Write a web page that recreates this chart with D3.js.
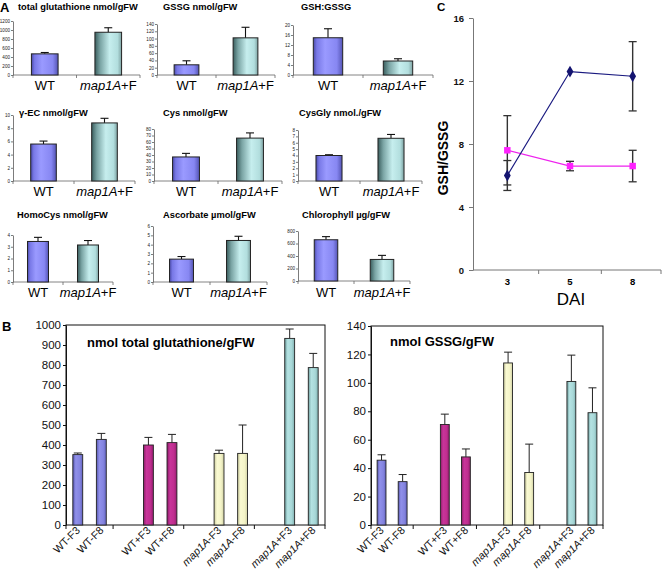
<!DOCTYPE html>
<html><head><meta charset="utf-8">
<script src="https://cdn.jsdelivr.net/npm/d3@7"></script>
<style>
body{margin:0;background:#fff}
svg{display:block}
text{font-family:"Liberation Sans",Arial,Helvetica,sans-serif}
</style>
</head><body>
<svg id="c" width="662" height="574"></svg>
<script>
// ---------- DATA ----------
// Panel A (9 small charts): WT vs map1A+F
const aTitles = ["total glutathione nmol/gFW","GSSG nmol/gFW","GSH:GSSG","γ-EC nmol/gFW","Cys nmol/gFW","CysGly nmol./gFW","HomoCys nmol/gFW","Ascorbate µmol/gFW","Chlorophyll µg/gFW"];
const aGroups = ["WT","map1A+F"];
const aWT     = [470, 28, 14.9, 5.6, 37, 4.0, 3.45, 2.45, 660];
const aWTErr  = [30, 11, 3.6, 0.45, 5.5, 0.12, 0.35, 0.28, 50];
const aMap    = [950, 102, 5.6, 8.8, 66, 6.7, 3.15, 4.45, 345];
const aMapErr = [100, 29, 0.9, 0.7, 8, 0.6, 0.38, 0.45, 65];
const aMax    = [1200, 140, 20, 10, 80, 8, 4, 6, 800];
const aStep   = [200, 20, 4, 2, 10, 1, 1, 1, 200];

// Panel B
const bGenotypes = ["WT-F","WT+F","map1A-F","map1A+F"];
const bDays = ["3","8"];
const bTotal    = [352, 428, 400, 412, 358, 358, 933, 787];
const bTotalErr = [8, 30, 38, 41, 16, 142, 47, 71];
const bGssg     = [45.6, 30.5, 70.7, 47.9, 114, 36.9, 101, 79];
const bGssgErr  = [3.8, 5, 7.3, 5.6, 7.6, 20, 18.5, 17.5];
const bTotalTicks = [0,100,200,300,400,500,600,700,800,900,1000];
const bGssgTicks  = [0,20,40,60,80,100,120,140];

// Panel C
const cDays = ["3","5","8"];
const cBlue    = [6.0, 12.6, 12.3];
const cBlueErr = [0.95, 0, 2.2];
const cPink    = [7.6, 6.6, 6.6];
const cPinkErr = [2.2, 0.3, 1.0];
const cTicks = [0,4,8,12,16];

// ---------- LAYOUT ----------
const FONT = '"Liberation Sans",Arial,Helvetica,sans-serif';
const fmt = d3.format("d");
const aLayout = [
  {x0:13, x1:140, y0:75, yTop:21, tx:18, ty:10, ly:90},
  {x0:157, x1:275, y0:75, yTop:24, tx:163, ty:10, ly:90},
  {x0:293, x1:433, y0:75, yTop:25, tx:301, ty:10, ly:90},
  {x0:13, x1:135, y0:181, yTop:115, tx:19, ty:116, ly:196},
  {x0:154, x1:282, y0:181, yTop:129, tx:163, ty:116, ly:196},
  {x0:298, x1:422, y0:181, yTop:130, tx:299, ty:116, ly:196},
  {x0:13, x1:113, y0:282, yTop:235, tx:17, ty:218, ly:297},
  {x0:153, x1:267, y0:282, yTop:226, tx:163, ty:218, ly:297},
  {x0:298, x1:410, y0:281, yTop:231, tx:302, ty:218, ly:297}
];

const svg = d3.select("#c");
const defs = svg.append("defs");
function grad(id, stops){
  const g = defs.append("linearGradient").attr("id",id).attr("x1","0").attr("x2","1").attr("y1","0").attr("y2","0");
  stops.forEach(s=>g.append("stop").attr("offset",s[0]).attr("stop-color",s[1]));
}
grad("gWT",[[0,"#4a4aa8"],[0.12,"#7878e6"],[0.4,"#9a9aff"],[0.8,"#8787f2"],[1,"#5454b4"]]);
grad("gMap",[[0,"#3a5e5e"],[0.2,"#7aa4a4"],[0.55,"#c6eeee"],[0.85,"#b2dede"],[1,"#7ea2a2"]]);
grad("bWTm",[[0,"#5656b0"],[0.3,"#9090ea"],[0.7,"#8484e0"],[1,"#6464c0"]]);
grad("bWTp",[[0,"#8a1c66"],[0.3,"#c8359a"],[0.7,"#c02e90"],[1,"#961e70"]]);
grad("bMm",[[0,"#c8c89a"],[0.3,"#fafad2"],[0.7,"#f4f4c8"],[1,"#d2d2a6"]]);
grad("bMp",[[0,"#6e9e9e"],[0.3,"#b4e2e2"],[0.7,"#a8d8d8"],[1,"#80b0b0"]]);

function label(sel, str){
  if(str.startsWith("map1A")){
    sel.append("tspan").attr("font-style","italic").text("map1A");
    sel.append("tspan").text(str.slice(5));
  } else sel.text(str);
}

// panel letters
svg.append("text").attr("x",0).attr("y",12).attr("font-size",13).attr("font-weight","bold").text("A");
svg.append("text").attr("x",2).attr("y",331).attr("font-size",13).attr("font-weight","bold").text("B");
svg.append("text").attr("x",437).attr("y",11).attr("font-size",11.5).attr("font-weight","bold").text("C");

// ---------- PANEL A ----------
aTitles.forEach((t,i)=>{
  const L = aLayout[i];
  const y = d3.scaleLinear().domain([0,aMax[i]]).range([L.y0,L.yTop]);
  const x = d3.scaleBand().domain(aGroups).range([L.x0,L.x1]);
  const g = svg.append("g");
  g.append("text").attr("x",L.tx).attr("y",L.ty).attr("font-size",9.3).attr("font-weight","bold").text(t);
  const ya = g.append("g").attr("transform",`translate(${L.x0},0)`)
    .call(d3.axisLeft(y).tickValues(d3.range(0,aMax[i]+aStep[i]/2,aStep[i])).tickFormat(fmt).tickSize(2).tickSizeOuter(0).tickPadding(1));
  ya.attr("font-size",4.6).attr("font-family",FONT);
  ya.selectAll("path,line").attr("stroke","#444").attr("stroke-width",0.7);
  ya.selectAll("text").attr("fill","#222");
  g.append("line").attr("x1",L.x0).attr("x2",L.x1).attr("y1",L.y0).attr("y2",L.y0).attr("stroke","#666").attr("stroke-width",0.8);
  [L.x0, x(aGroups[1]), L.x1].forEach(px=>{
    g.append("line").attr("x1",px).attr("x2",px).attr("y1",L.y0).attr("y2",L.y0+3).attr("stroke","#666").attr("stroke-width",0.8);
  });
  const vals = [aWT[i], aMap[i]], errs = [aWTErr[i], aMapErr[i]];
  const bw = x.bandwidth()*0.42;
  aGroups.forEach((k,j)=>{
    const cx = x(k)+x.bandwidth()/2;
    const top = y(vals[j]), et = y(vals[j]+errs[j]);
    g.append("line").attr("x1",cx).attr("x2",cx).attr("y1",top).attr("y2",et).attr("stroke","#111").attr("stroke-width",1.1);
    g.append("line").attr("x1",cx-4).attr("x2",cx+4).attr("y1",et).attr("y2",et).attr("stroke","#111").attr("stroke-width",1.1);
    g.append("rect").attr("x",cx-bw/2).attr("y",top).attr("width",bw).attr("height",L.y0-top)
      .attr("fill", j===0?"url(#gWT)":"url(#gMap)").attr("stroke","#222").attr("stroke-width",1);
    const tx = g.append("text").attr("x",cx).attr("y",L.ly).attr("text-anchor","middle").attr("font-size",13);
    label(tx,k);
  });
});

// ---------- PANEL B ----------
function drawB(L, vals, errs, ticks, title){
  const y = d3.scaleLinear().domain([0,ticks[ticks.length-1]]).range([L.yBot,L.yTop]);
  const outer = d3.scaleBand().domain(bGenotypes).range([L.x0,L.x1]).paddingInner(1/3).paddingOuter(0);
  const inner = d3.scaleBand().domain(bDays).range([0,outer.bandwidth()]);
  const g = svg.append("g");
  g.append("rect").attr("x",L.x0).attr("y",L.yTop).attr("width",L.x1-L.x0).attr("height",L.yBot-L.yTop)
    .attr("fill","none").attr("stroke","#111").attr("stroke-width",1);
  const ya = g.append("g").attr("transform",`translate(${L.x0},0)`)
    .call(d3.axisLeft(y).tickValues(ticks).tickFormat(fmt).tickSize(3).tickSizeOuter(0).tickPadding(2));
  ya.attr("font-size",11.5).attr("font-family",FONT);
  ya.selectAll("path,line").attr("stroke","#111");
  ya.selectAll("text").attr("fill","#111");
  bGenotypes.forEach(gn=>{
    const px = outer(gn)+outer.bandwidth();
    g.append("line").attr("x1",px).attr("x2",px).attr("y1",L.yBot).attr("y2",L.yBot+4).attr("stroke","#111");
  });
  g.append("line").attr("x1",L.x0).attr("x2",L.x0).attr("y1",L.yBot).attr("y2",L.yBot+4).attr("stroke","#111");
  const fills = ["url(#bWTm)","url(#bWTp)","url(#bMm)","url(#bMp)"];
  const bw = inner.bandwidth()*0.42;
  bGenotypes.forEach((gn,gi)=>{
    bDays.forEach((d,di)=>{
      const k = gi*2+di;
      const cx = outer(gn)+inner(d)+inner.bandwidth()/2;
      const top = y(vals[k]), et = y(vals[k]+errs[k]);
      g.append("line").attr("x1",cx).attr("x2",cx).attr("y1",top).attr("y2",et).attr("stroke","#222").attr("stroke-width",1);
      g.append("line").attr("x1",cx-4).attr("x2",cx+4).attr("y1",et).attr("y2",et).attr("stroke","#222").attr("stroke-width",1);
      g.append("rect").attr("x",cx-bw/2).attr("y",top).attr("width",bw).attr("height",L.yBot-top)
        .attr("fill",fills[gi]).attr("stroke","#222").attr("stroke-width",0.9);
      const t = g.append("text").attr("transform",`translate(${cx+3},${L.yBot+6}) rotate(-45)`)
        .attr("text-anchor","end").attr("font-size",10.8).attr("fill","#111");
      label(t, gn+d);
    });
  });
  g.append("text").attr("x",L.tx).attr("y",L.ty).attr("font-size",13).attr("font-weight","bold").text(title);
}
drawB({x0:66,x1:325,yTop:325,yBot:525,tx:87,ty:347}, bTotal, bTotalErr, bTotalTicks, "nmol total glutathione/gFW");
drawB({x0:371,x1:603,yTop:326,yBot:525,tx:390,ty:346}, bGssg, bGssgErr, bGssgTicks, "nmol GSSG/gFW");

// ---------- PANEL C ----------
(function(){
  const x = d3.scaleBand().domain(cDays).range([476,664]);
  const y = d3.scaleLinear().domain([0,16]).range([270,18]);
  const g = svg.append("g");
  const ya = g.append("g").attr("transform","translate(473,0)")
    .call(d3.axisLeft(y).tickValues(cTicks).tickFormat(fmt).tickSize(4).tickSizeOuter(0).tickPadding(5));
  ya.attr("font-size",9.5).attr("font-family",FONT).attr("font-weight","bold");
  ya.selectAll("path,line").attr("stroke","#777");
  ya.selectAll("text").attr("fill","#111");
  g.append("line").attr("x1",473).attr("x2",661).attr("y1",270).attr("y2",270).attr("stroke","#777");
  cDays.forEach((d,i)=>{
    if(i>0){ const px = x(d); g.append("line").attr("x1",px).attr("x2",px).attr("y1",270).attr("y2",274).attr("stroke","#777"); }
    g.append("text").attr("x",x(d)+x.bandwidth()/2).attr("y",285).attr("text-anchor","middle")
      .attr("font-size",9.5).attr("font-weight","bold").text(d);
  });
  g.append("line").attr("x1",661).attr("x2",661).attr("y1",270).attr("y2",274).attr("stroke","#777");
  const cx = d=>x(d)+x.bandwidth()/2;
  function errs(vals, e){
    cDays.forEach((d,i)=>{
      if(!e[i]) return;
      const px = cx(d), a = y(vals[i]-e[i]), b = y(vals[i]+e[i]);
      g.append("line").attr("x1",px).attr("x2",px).attr("y1",a).attr("y2",b).attr("stroke","#333").attr("stroke-width",1.4);
      [a,b].forEach(yy=>g.append("line").attr("x1",px-4).attr("x2",px+4).attr("y1",yy).attr("y2",yy).attr("stroke","#333").attr("stroke-width",1.3));
    });
  }
  errs(cPink,cPinkErr); errs(cBlue,cBlueErr);
  const line = d3.line().x((v,i)=>cx(cDays[i])).y(v=>y(v));
  g.append("path").attr("d",line(cPink)).attr("fill","none").attr("stroke","#ee22ee").attr("stroke-width",1.2);
  g.append("path").attr("d",line(cBlue)).attr("fill","none").attr("stroke","#1a1a80").attr("stroke-width",1.2);
  cPink.forEach((v,i)=>g.append("path").attr("d",d3.symbol(d3.symbolSquare,42)()).attr("transform",`translate(${cx(cDays[i])},${y(v)})`).attr("fill","#ff22ff"));
  cBlue.forEach((v,i)=>g.append("path").attr("d",d3.symbol(d3.symbolDiamond,40)()).attr("transform",`translate(${cx(cDays[i])},${y(v)})`).attr("fill","#141470"));
  g.append("text").attr("transform","translate(448,158) rotate(-90)").attr("text-anchor","middle")
    .attr("font-size",14).attr("font-weight","bold").text("GSH/GSSG");
  g.append("text").attr("x",571).attr("y",305).attr("text-anchor","middle").attr("font-size",17).text("DAI");
})();
</script>
</body></html>
